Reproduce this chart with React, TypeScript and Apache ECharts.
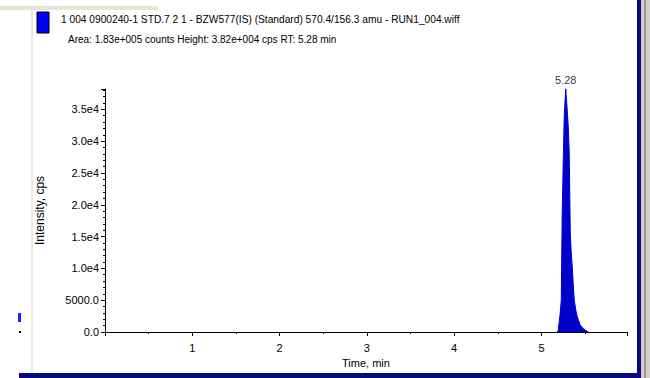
import React, { useEffect, useRef } from "react";
import * as echarts from "echarts";

const titleLine1 = "1 004 0900240-1 STD.7 2 1 - BZW577(IS) (Standard) 570.4/156.3 amu - RUN1_004.wiff";
const titleLine2 = "Area: 1.83e+005 counts Height: 3.82e+004 cps RT: 5.28 min";
const xAxisName = "Time, min";
const yAxisName = "Intensity, cps";
const peakLabel = "5.28";

const peakTimes = [5.18, 5.192, 5.204, 5.215, 5.227, 5.238, 5.25, 5.261, 5.278, 5.296, 5.307, 5.318, 5.33, 5.341, 5.353, 5.364, 5.376, 5.393, 5.41, 5.444, 5.479, 5.524, 5.54];
const peakIntensities = [0, 200, 1700, 3000, 5000, 19000, 27000, 34000, 38200, 34700, 32300, 28200, 15600, 12500, 10250, 7500, 5000, 3500, 2370, 1100, 500, 100, 0];

const X_MIN = 0;
const X_MAX = 5.98;
const Y_MIN = 0;
const Y_MAX = 38200;

export default function App() {
  const ref = useRef<HTMLDivElement>(null);
  useEffect(() => {
    if (!ref.current) return;
    const chart = echarts.init(ref.current, null, { renderer: "svg" });
    const apexIdx = peakIntensities.indexOf(Math.max(...peakIntensities));
    const data = peakTimes.map((t, i) => [t, peakIntensities[i]]);
    const font = "Liberation Sans";
    chart.setOption({
      animation: false,
      backgroundColor: "#ffffff",
      grid: { left: 105, right: 23, top: 89, bottom: 46 },
      xAxis: {
        type: "value",
        min: X_MIN,
        max: X_MAX,
        interval: 1,
        name: xAxisName,
        nameLocation: "middle",
        nameGap: 25,
        nameTextStyle: { color: "#000", fontSize: 11, fontFamily: font },
        axisLine: { lineStyle: { color: "#000", width: 1 } },
        axisTick: { length: 4, lineStyle: { color: "#000" } },
        minorTick: { show: true, splitNumber: 2, length: 2, lineStyle: { color: "#000" } },
        axisLabel: { showMinLabel: false, showMaxLabel: false, color: "#000", fontSize: 11, fontFamily: font, margin: 10 },
        splitLine: { show: false },
      },
      yAxis: {
        type: "value",
        min: Y_MIN,
        max: Y_MAX,
        interval: 5000,
        name: yAxisName,
        nameLocation: "middle",
        nameGap: 59,
        nameTextStyle: { color: "#000", fontSize: 12, fontFamily: font },
        axisLine: { show: true, lineStyle: { color: "#000", width: 1 } },
        axisTick: { show: true, length: 4, lineStyle: { color: "#000" } },
        minorTick: { show: true, splitNumber: 5, length: 2, lineStyle: { color: "#000" } },
        axisLabel: {
          showMaxLabel: false,
          color: "#000",
          fontSize: 11,
          fontFamily: font,
          margin: 6,
          formatter: (v: number) => (v < 10000 ? v.toFixed(1) : (v / 10000).toFixed(1) + "e4"),
        },
        splitLine: { show: false },
      },
      series: [
        {
          type: "line",
          data,
          symbol: "none",
          showSymbol: false,
          lineStyle: { color: "#0000cc", width: 1 },
          areaStyle: { color: "#0000cc", opacity: 1 },
          z: 1,
        },
        {
          type: "scatter",
          data: [[peakTimes[apexIdx], peakIntensities[apexIdx]]],
          symbolSize: 1,
          itemStyle: { color: "#0000cc" },
          label: { show: true, position: "top", formatter: peakLabel, color: "#000", fontSize: 11, fontFamily: font, distance: 3 },
          z: 3,
        },
      ],
      graphic: [
        { type: "rect", shape: { x: 0, y: 6, width: 158, height: 4 }, style: { fill: "#e8e5d8" }, silent: true },
        { type: "line", shape: { x1: 32, y1: 10, x2: 32, y2: 373 }, style: { stroke: "#ece9d8", lineWidth: 2 }, silent: true },
        { type: "rect", shape: { x: 37, y: 12, width: 12, height: 21 }, style: { fill: "#0000ff", stroke: "#000", lineWidth: 1 }, silent: true },
        { type: "text", x: 61, y: 19, style: { text: titleLine1, fill: "#000", fontSize: 10.2, fontFamily: font, verticalAlign: "middle" }, silent: true },
        { type: "text", x: 68, y: 39, style: { text: titleLine2, fill: "#000", fontSize: 10, fontFamily: font, verticalAlign: "middle" }, silent: true },
        { type: "rect", shape: { x: 18, y: 313, width: 3, height: 9 }, style: { fill: "#2020ff" }, silent: true },
        { type: "rect", shape: { x: 19, y: 331, width: 2, height: 2 }, style: { fill: "#000" }, silent: true },
        { type: "rect", shape: { x: 19, y: 373, width: 622, height: 5 }, style: { fill: "#0a0a80" }, silent: true },
        { type: "rect", shape: { x: 637, y: 0, width: 4, height: 378 }, style: { fill: "#0a0a80" }, silent: true },
        { type: "rect", shape: { x: 641, y: 0, width: 9, height: 378 }, style: { fill: "#d4d0c8" }, silent: true },
        { type: "rect", shape: { x: 644, y: 0, width: 2, height: 378 }, style: { fill: "#9a9890" }, silent: true },
      ],
    });
    return () => chart.dispose();
  }, []);
  return <div ref={ref} style={{ position: "fixed", left: 0, top: 0, width: 650, height: 378 }} />;
}
